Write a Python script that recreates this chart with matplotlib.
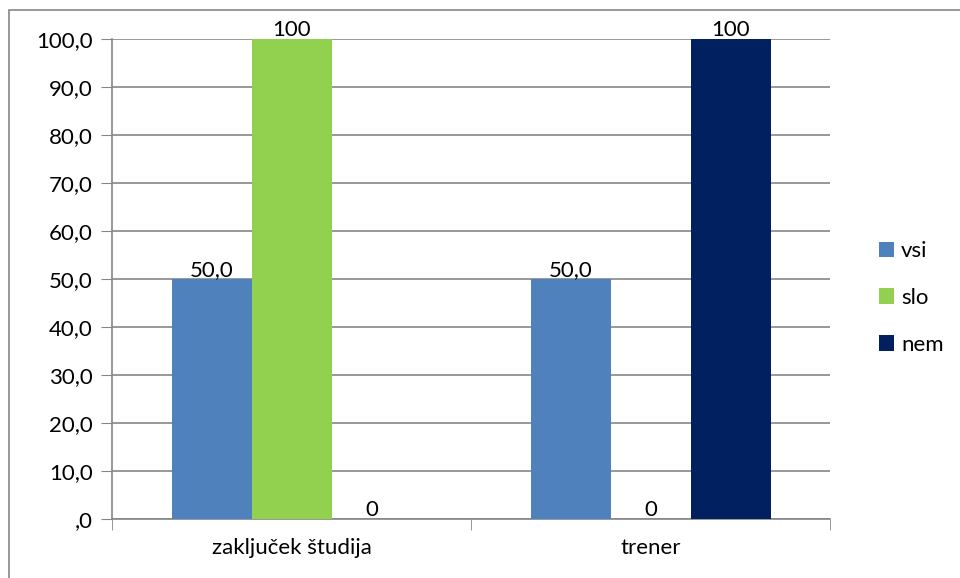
import numpy as np
import matplotlib.pyplot as plt
from matplotlib.patches import Rectangle

plt.rcParams['font.family'] = ['Lato', 'DejaVu Sans']

categories = ["zaključek študija", "trener"]
series = ["vsi", "slo", "nem"]
values = {
    "vsi": [50.0, 50.0],
    "slo": [100, 0],
    "nem": [0, 100],
}
label_fmt = {"vsi": "{:.1f}", "slo": "{:.0f}", "nem": "{:.0f}"}
colors = {"vsi": "#4F81BD", "slo": "#92D050", "nem": "#002060"}
yticks = np.arange(0, 101, 10)

fig = plt.figure(figsize=(9.6, 5.78), dpi=100)
ax = fig.add_axes([112 / 960, 1 - 519 / 578, (830 - 112) / 960, (519 - 39) / 578])

# outer chart border (only top/left visible in the original)
fig.add_artist(Rectangle((9 / 960, -0.05), 1.1, 1 - 10 / 578 + 0.05,
                         transform=fig.transFigure, fill=False,
                         edgecolor="#868686", linewidth=1.2))

x = np.arange(len(categories))
w = 80 / 359
for i, s in enumerate(series):
    pos = x + (i - 1) * w
    ax.bar(pos, values[s], width=w, color=colors[s], label=s, zorder=3)
    for p, v in zip(pos, values[s]):
        ax.text(p, v - 0.2, label_fmt[s].format(v).replace(".", ","),
                ha="center", va="bottom", fontsize=16, zorder=4)


def ylab(t):
    s = f"{t:.1f}".replace(".", ",")
    return s[1:] if t == 0 else s


ax.set_xlim(-0.5, 1.5)
ax.set_ylim(0, 100)
ax.set_yticks(yticks)
ax.set_yticklabels([ylab(t) for t in yticks], fontsize=16)
ax.set_xticks(x)
ax.set_xticklabels(categories, fontsize=16)
ax.tick_params(axis="x", length=0, pad=14)
ax.set_xticks([-0.5, 0.5, 1.5], minor=True)
ax.tick_params(axis="x", which="minor", length=8, color="#868686", direction="out")
ax.tick_params(axis="y", length=8, color="#868686", pad=6)
ax.grid(axis="y", color="#868686", linewidth=1.2, zorder=0)

for side in ["top", "right"]:
    ax.spines[side].set_visible(False)
for side in ["left", "bottom"]:
    ax.spines[side].set_color("#868686")
    ax.spines[side].set_linewidth(1.2)

fig.legend(loc="center left", bbox_to_anchor=(870 / 960, 1 - 298 / 578),
           frameon=False, fontsize=16, handlelength=0.7, handleheight=0.7,
           handletextpad=0.3, labelspacing=1.2, borderaxespad=0)

fig.savefig("out.png", dpi=100)
